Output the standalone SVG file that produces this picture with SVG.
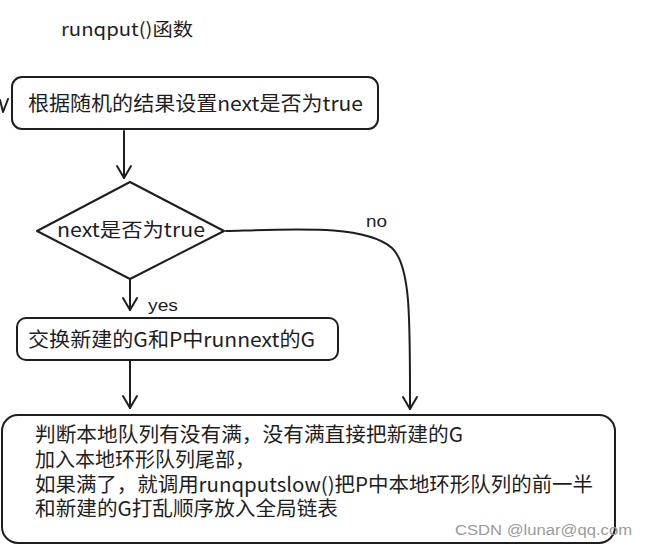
<svg xmlns="http://www.w3.org/2000/svg" width="647" height="548" viewBox="0 0 647 548">
<style>
.shape{fill:#ffffff;stroke:#1e1e1e;stroke-width:2;stroke-linejoin:round}
.line{fill:none;stroke:#1e1e1e;stroke-width:2;stroke-linecap:round;stroke-linejoin:round}
.t{font-family:"Noto Sans CJK SC","Liberation Sans",sans-serif;fill:#1e1e1e}
.lbl{font-family:"Liberation Sans","Noto Sans CJK SC",sans-serif;fill:#1e1e1e;font-size:16px}
.wm{font-family:"Liberation Sans",Arial,sans-serif;fill:#9a9a9a;font-size:15.5px}
</style>
<defs>
<marker id="arr" viewBox="0 0 20 20" refX="18" refY="10" markerWidth="20" markerHeight="20" markerUnits="userSpaceOnUse" orient="auto" overflow="visible">
<path d="M6,3 L18,10 L6,17" fill="none" stroke="#1e1e1e" stroke-width="2" stroke-linecap="round" stroke-linejoin="round"/>
</marker>
</defs>
<rect width="647" height="548" fill="#ffffff"/>

<g id="title">
<text class="t" x="61" y="36" font-size="18" textLength="132" lengthAdjust="spacingAndGlyphs">runqput()函数</text>
</g>

<g id="fragment">
<path class="line" d="M0,100 L3,112 L8,99"/>
</g>

<g id="node-set-next">
<rect class="shape" x="12" y="77" width="366" height="52" rx="10"/>
<text class="t" x="28" y="111" font-size="20" textLength="335" lengthAdjust="spacingAndGlyphs">根据随机的结果设置next是否为true</text>
</g>

<g id="node-decision">
<path class="shape" d="M130,182 L224,231 L130,279 L37,231 Z"/>
<text class="t" x="57" y="237" font-size="19" textLength="148" lengthAdjust="spacingAndGlyphs">next是否为true</text>
</g>

<g id="node-swap">
<rect class="shape" x="17" y="318" width="321" height="42" rx="9"/>
<text class="t" x="28" y="347" font-size="20" textLength="287" lengthAdjust="spacingAndGlyphs">交换新建的G和P中runnext的G</text>
</g>

<g id="node-local-queue">
<rect class="shape" x="2" y="415" width="613" height="128" rx="16"/>
<text class="t" x="35" y="442" font-size="20" textLength="428" lengthAdjust="spacingAndGlyphs">判断本地队列有没有满，没有满直接把新建的G</text>
<text class="t" x="35" y="467" font-size="20">加入本地环形队列尾部，</text>
<text class="t" x="35" y="492" font-size="20" textLength="558" lengthAdjust="spacingAndGlyphs">如果满了，就调用runqputslow()把P中本地环形队列的前一半</text>
<text class="t" x="35" y="516" font-size="20" textLength="303" lengthAdjust="spacingAndGlyphs">和新建的G打乱顺序放入全局链表</text>
</g>

<g id="connectors">
<path class="line" d="M124,131 L124,178" marker-end="url(#arr)"/>
<path class="line" d="M130,280 L130,310" marker-end="url(#arr)"/>
<path class="line" d="M130,361 L130,408" marker-end="url(#arr)"/>
<path class="line" d="M226,231 C300,229 365,225 392,248 C411,266 410,320 410,409" marker-end="url(#arr)"/>
<text class="lbl" x="148" y="311" textLength="30" lengthAdjust="spacingAndGlyphs">yes</text>
<text class="lbl" x="366" y="227" textLength="21" lengthAdjust="spacingAndGlyphs">no</text>
</g>

<text class="wm" x="455" y="535" textLength="177" lengthAdjust="spacingAndGlyphs">CSDN @lunar@qq.com</text>
</svg>
